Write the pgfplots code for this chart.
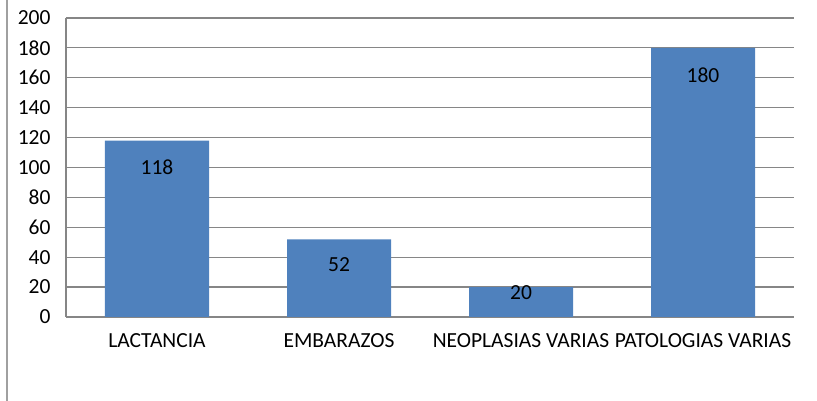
\documentclass[border=0pt]{standalone}
\usepackage{fontspec}
\setmainfont{Carlito}
\usepackage{pgfplots}
\pgfplotsset{compat=1.18}
\definecolor{barblue}{HTML}{4F81BD}
\definecolor{gridgray}{HTML}{868686}
\definecolor{framegray}{HTML}{A0A0A0}
\begin{document}
\begin{tikzpicture}[x=1pt,y=1pt]
\useasboundingbox (0,0) rectangle (817,401);
\draw[framegray, line width=1.6pt] (6.8,0) -- (6.8,401);
\begin{axis}[
  at={(66pt,84pt)}, anchor=south west,
  scale only axis, width=728pt, height=299pt,
  xmin=-0.5, xmax=3.5, ymin=0, ymax=200,
  ytick={0,20,...,200},
  xtick={0,1,2,3},
  xticklabels={LACTANCIA,EMBARAZOS,NEOPLASIAS VARIAS,PATOLOGIAS VARIAS},
  axis x line*=bottom, axis y line*=left,
  axis line style={gridgray, line width=1.2pt},
  x axis line style={-}, y axis line style={-},
  ymajorgrids, grid style={gridgray, line width=1.2pt},
  major tick length=0pt,
  tick style={draw=none},
  /pgf/number format/assume math mode=true,
  ticklabel style={font=\fontsize{21.5}{25}\selectfont, text=black},
  yticklabel style={xshift=-12pt},
  xticklabel style={yshift=-13pt},
]
\addplot[ybar, bar width=104pt, bar shift=0pt, fill=barblue, draw=none] coordinates {(0,118) (1,52) (2,20) (3,180)};
\addplot[draw=none, mark=none, nodes near coords, point meta=explicit symbolic,
  nodes near coords style={font=\fontsize{21.5}{25}\selectfont, text=black, anchor=center}]
  coordinates {(0,100.3)[118] (1,34.8)[52] (2,16)[20] (3,162)[180]};
\end{axis}
\end{tikzpicture}
\end{document}
